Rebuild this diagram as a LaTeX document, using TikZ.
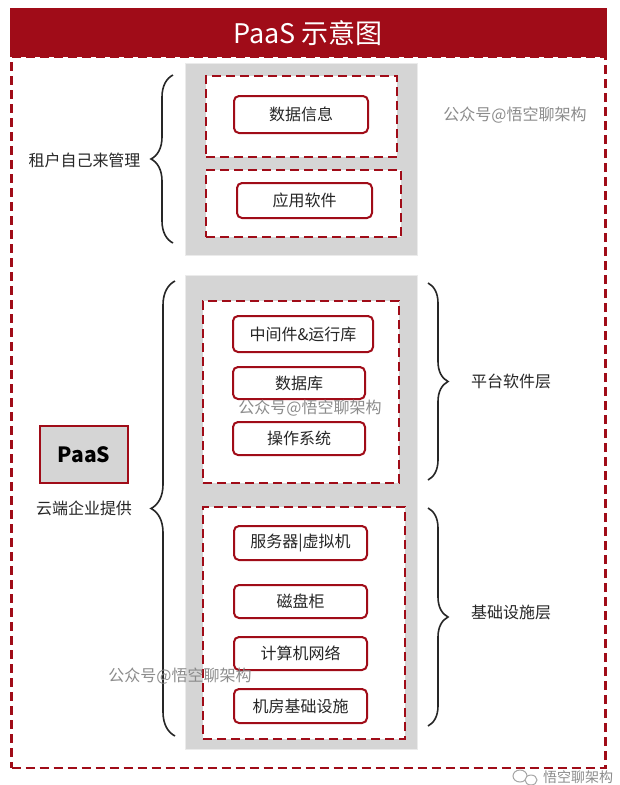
\documentclass[tikz,border=0pt]{standalone}
\usepackage{fontspec}
\setmainfont{Noto Sans CJK SC}
\usetikzlibrary{decorations.pathreplacing}
\definecolor{pred}{HTML}{A00C18}
\definecolor{pgray}{HTML}{D5D5D5}
\definecolor{wm}{HTML}{858585}
\begin{document}
\begin{tikzpicture}[x=1pt,y=-1pt,
  item/.style={draw=pred, line width=2pt, rounded corners=5pt, fill=white,
    font=\fontsize{16}{16}\selectfont, text=black!85, inner sep=0pt},
  dbox/.style={draw=pred, line width=2.4pt, dash pattern=on 9pt off 5pt, fill=white, inner sep=0pt},
  gbox/.style={draw=black!8, line width=1pt, fill=pgray, inner sep=0pt},
  lbl/.style={font=\fontsize{16}{16}\selectfont, text=black!85, inner sep=0pt},
  wmark/.style={font=\fontsize{16}{16}\selectfont, text=wm, inner sep=0pt, opacity=0.95},
  brc/.style={decorate, draw=black!85, line width=1.6pt},
]
\useasboundingbox (0,0) rectangle (619,785);
\clip (0,0) rectangle (619,785);
\fill[white] (0,0) rectangle (619,785);

% outer dashed frame and title bar
\node[draw=pred, line width=2.4pt, dash pattern=on 9pt off 5pt, minimum width=594pt, minimum height=711pt, inner sep=0pt] (frame) at (308.5,412.5) {};
\node[fill=pred, minimum width=597pt, minimum height=49pt, inner sep=0pt] (bar) at (308.5,32.5) {};
\node[font=\fontsize{27}{27}\selectfont, text=white, inner sep=0pt] (title) at (308,33) {PaaS 示意图};

% gray columns
\node[gbox, minimum width=232pt, minimum height=192pt] (g1) at (301,159) {};
\node[gbox, minimum width=232pt, minimum height=474pt] (g2) at (301,512) {};

% dashed groups
\node[dbox, minimum width=191pt, minimum height=81pt] (d1) at (301.5,116.5) {};
\node[dbox, minimum width=195pt, minimum height=67pt] (d2) at (303.5,203.5) {};
\node[dbox, minimum width=196pt, minimum height=182pt] (d3) at (301,392) {};
\node[dbox, minimum width=202pt, minimum height=232pt] (d4) at (304,623) {};

% items
\node[item, minimum width=134pt, minimum height=37pt] (n1) at (301,114.5) {数据信息};
\node[item, minimum width=135pt, minimum height=35pt] (n2) at (304.5,200.5) {应用软件};
\node[item, minimum width=140pt, minimum height=36pt] (n3) at (303,334) {中间件\&运行库};
\node[item, minimum width=132pt, minimum height=32pt] (n4) at (299,383) {数据库};
\node[item, minimum width=132pt, minimum height=33pt] (n5) at (299,438.5) {操作系统};
\node[item, minimum width=133pt, minimum height=34pt] (n6) at (300.5,543) {服务器|虚拟机};
\node[item, minimum width=133pt, minimum height=33pt] (n7) at (300.5,601.5) {磁盘柜};
\node[item, minimum width=133pt, minimum height=33pt] (n8) at (300.5,653.5) {计算机网络};
\node[item, minimum width=133pt, minimum height=34pt] (n9) at (300.5,706) {机房基础设施};

% PaaS box
\node[draw=pred, line width=2pt, fill=pgray, minimum width=88pt, minimum height=57pt, inner sep=0pt,
  font=\fontsize{21}{21}\selectfont\bfseries] (paas) at (84,454.5) {PaaS};

% braces
\coordinate (b1s) at (173,243);
\coordinate (b1e) at (173,75);
\draw[brc, decoration={brace, amplitude=22pt}] (b1s) -- (b1e);
\coordinate (b2s) at (175,736);
\coordinate (b2e) at (175,281);
\draw[brc, decoration={brace, amplitude=24pt}] (b2s) -- (b2e);
\coordinate (b3s) at (428,283);
\coordinate (b3e) at (428,480);
\draw[brc, decoration={brace, amplitude=20pt}] (b3s) -- (b3e);
\coordinate (b4s) at (428,508);
\coordinate (b4e) at (428,726);
\draw[brc, decoration={brace, amplitude=20pt}] (b4s) -- (b4e);

% labels
\node[lbl] (l1) at (84.5,160) {租户自己来管理};
\node[lbl] (l2) at (84,508) {云端企业提供};
\node[lbl] (l3) at (511,381) {平台软件层};
\node[lbl] (l4) at (511,612) {基础设施层};

% watermarks
\node[wmark] (w1) at (515,115) {公众号@悟空聊架构};
\node[wmark] (w2) at (310,408) {公众号@悟空聊架构};
\node[wmark] (w3) at (180,676) {公众号@悟空聊架构};
\draw[black!35, line width=1pt] (520,776) ellipse (7pt and 6pt);
\draw[black!35, line width=1pt, fill=white] (531,780) ellipse (6pt and 5pt);
\node[font=\fontsize{14}{14}\selectfont, text=black!45, anchor=west, inner sep=0pt] (w4) at (543,777) {悟空聊架构};
\end{tikzpicture}
\end{document}
